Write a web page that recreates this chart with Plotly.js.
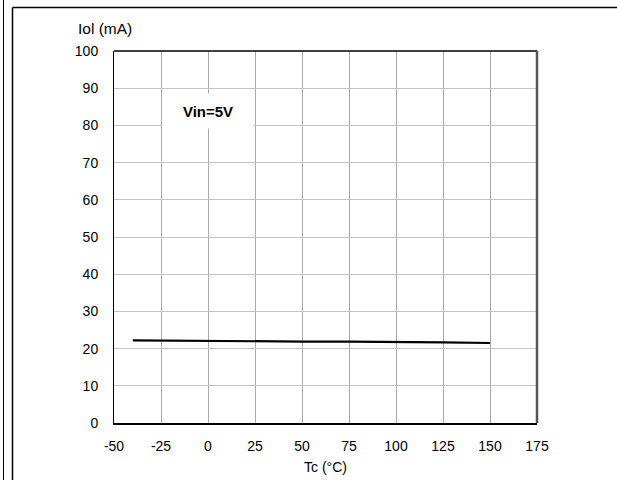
<!DOCTYPE html>
<html><head><meta charset="utf-8">
<script src="https://cdn.plot.ly/plotly-3.0.1.min.js"></script>
<style>html,body{margin:0;padding:0;background:#fff}#chart{width:617px;height:480px}</style>
</head><body><div id="chart"></div>
<script>
var tempC = [-40, 0, 25, 50, 75, 100, 125, 150];
var iolmA = [22.2, 22.0, 21.95, 21.9, 21.85, 21.8, 21.7, 21.5];
var xTicks = [-50, -25, 0, 25, 50, 75, 100, 125, 150, 175];
var yTicks = [0, 10, 20, 30, 40, 50, 60, 70, 80, 90, 100];

var fam = 'Liberation Sans, Arial, sans-serif';
var font = {family: fam, size: 14, color: '#000'};
var L = 114, R = 80, T = 51, B = 57, W = 617, H = 480;
var pw = W - L - R, ph = H - T - B;
function px(x){ return (x - L) / pw; }
function py(y){ return (H - B - y) / ph; }

var data = [{
  x: tempC, y: iolmA, type: 'scatter', mode: 'lines',
  line: {color: '#000', width: 2.2}, hoverinfo: 'skip'
}];

var layout = {
  width: W, height: H,
  margin: {l: L, r: R, t: T, b: B},
  paper_bgcolor: '#fff', plot_bgcolor: '#fff',
  showlegend: false,
  font: font,
  xaxis: {
    range: [-50, 175], tickvals: xTicks, ticktext: xTicks.map(String),
    showgrid: true, gridcolor: '#a8a8a8', gridwidth: 1, zeroline: false,
    showline: true, linecolor: '#000', linewidth: 2,
    ticks: 'outside', ticklen: 9, tickcolor: 'rgba(0,0,0,0)',
    tickfont: font, fixedrange: true
  },
  yaxis: {
    range: [0, 100], tickvals: yTicks, ticktext: yTicks.map(String),
    showgrid: true, gridcolor: '#c4c4c4', gridwidth: 1, zeroline: false,
    showline: true, linecolor: '#000', linewidth: 1,
    ticks: 'outside', ticklen: 12, tickcolor: 'rgba(0,0,0,0)',
    tickfont: font, fixedrange: true
  },
  shapes: [
    {type: 'line', xref: 'paper', yref: 'paper', x0: 0, x1: 1, y0: 1, y1: 1, line: {color: '#000', width: 1.5}},
    {type: 'line', xref: 'paper', yref: 'paper', x0: 1, x1: 1, y0: 0, y1: 1, line: {color: '#555', width: 2.5}},
    {type: 'line', xref: 'paper', yref: 'paper', x0: px(3.5), x1: px(3.5), y0: py(0), y1: py(480), line: {color: '#000', width: 1}},
    {type: 'line', xref: 'paper', yref: 'paper', x0: px(12.5), x1: px(12.5), y0: py(7.5), y1: py(480), line: {color: '#000', width: 1.5}},
    {type: 'line', xref: 'paper', yref: 'paper', x0: px(12.5), x1: px(617), y0: py(7.5), y1: py(7.5), line: {color: '#000', width: 1.5}}
  ],
  annotations: [
    {text: 'Vin=5V', xref: 'x', yref: 'y', x: 0, y: 84, showarrow: false,
     font: {family: fam, size: 15, color: '#000', weight: 'bold'},
     bgcolor: '#fff', width: 90, height: 34, borderpad: 0},
    {text: 'Iol (mA)', xref: 'paper', yref: 'paper', x: px(104.5), y: py(28), showarrow: false,
     xanchor: 'center', yanchor: 'middle', font: {family: fam, size: 15.5, color: '#000'}},
    {text: 'Tc (°C)', xref: 'paper', yref: 'paper', x: px(325.5), y: py(467), showarrow: false,
     xanchor: 'center', yanchor: 'middle', font: {family: fam, size: 14, color: '#000'}}
  ]
};

Plotly.newPlot('chart', data, layout, {displayModeBar: false, staticPlot: true});
</script></body></html>
